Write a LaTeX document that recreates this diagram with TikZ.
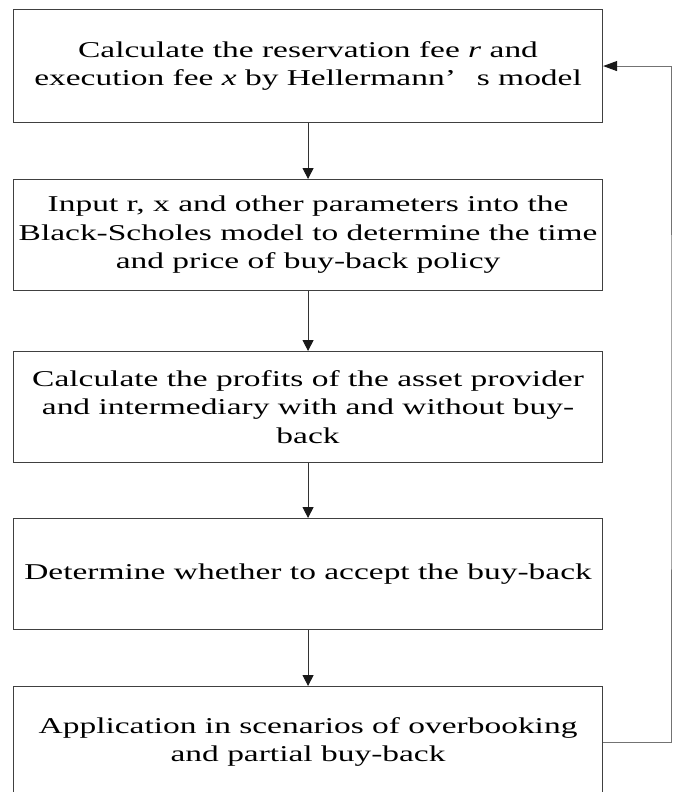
\documentclass[tikz,border=0pt]{standalone}
\usepackage{fontspec}
\setmainfont{Liberation Serif}[FakeStretch=1.48]
\usetikzlibrary{arrows.meta}
\begin{document}
\begin{tikzpicture}[x=1pt,y=-1pt,
  box/.style={draw=black!75, line width=1.1pt, minimum width=589pt, inner sep=0pt,
    align=center, font=\fontsize{22.6}{28.5}\selectfont, anchor=north west},
  arr/.style={draw=black!80, line width=1pt, -{Triangle[length=11pt,width=11pt,black!90]}},
  fb/.style={draw=black!55, line width=1pt, -{Triangle[length=14pt,width=10pt,black!90]}}]
\useasboundingbox (0,0) rectangle (675,792);
\node[box, minimum height=113pt] (b1) at (13,9)
  {Calculate the reservation fee \textit{r} and\\execution fee \textit{x} by Hellermann’\hspace{21pt}s model};
\node[box, minimum height=111pt] (b2) at (13,179)
  {Input r, x and other parameters into the\\Black-Scholes model to determine the time\\and price of buy-back policy};
\node[box, minimum height=111pt] (b3) at (13,351)
  {Calculate the profits of the asset provider\\and intermediary with and without buy-\\back};
\node[box, minimum height=111pt] (b4) at (13,518)
  {Determine whether to accept the buy-back};
\node[box, minimum height=111pt] (b5) at (13,686)
  {Application in scenarios of overbooking\\and partial buy-back};
\coordinate (fbx) at (671,400);
\draw[arr] (b1.south) -- (b2.north);
\draw[arr] (b2.south) -- (b3.north);
\draw[arr] (b3.south) -- (b4.north);
\draw[arr] (b4.south) -- (b5.north);
\draw[fb] (b5.east) -| (fbx) |- (b1.east);
\end{tikzpicture}
\end{document}
